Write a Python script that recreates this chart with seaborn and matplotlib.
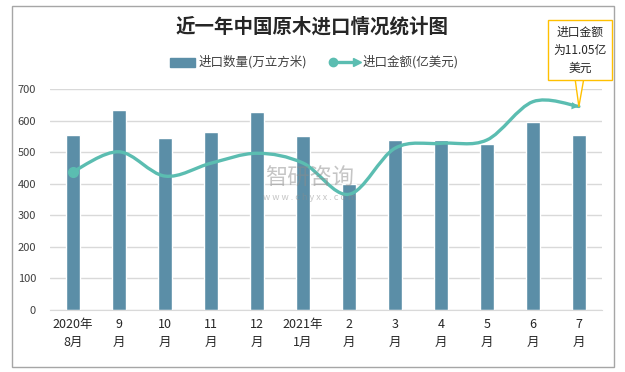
import numpy as np
import pandas as pd
import matplotlib
matplotlib.use('Agg')
import matplotlib.pyplot as plt
from matplotlib.path import Path
from matplotlib.patches import PathPatch, Rectangle
import seaborn as sns

sns.set_style('white')
plt.rcParams['font.family'] = ['Noto Sans CJK SC', 'DejaVu Sans']

# data
months = ['2020年\n8月', '9\n月', '10\n月', '11\n月', '12\n月', '2021年\n1月',
          '2\n月', '3\n月', '4\n月', '5\n月', '6\n月', '7\n月']
volume = [554, 633, 545, 564, 627, 551, 399, 538, 538, 526, 596, 554]   # 万立方米
value = [7.51, 8.59, 7.27, 7.97, 8.51, 7.98, 6.28, 8.78, 9.05, 9.23, 11.31, 11.05]  # 亿美元

bar_color = '#5b8ea7'
line_color = '#5bbdb1'

df = pd.DataFrame({'month': months, 'volume': volume, 'value': value})

fig = plt.figure(figsize=(6.25, 3.72), dpi=100)
ax = fig.add_axes([0.08, 0.1667, 0.883, 0.5941])

sns.barplot(data=df, x='month', y='volume', color=bar_color, width=0.3,
            saturation=1, ax=ax)
ax.set_xlim(-0.5, len(months) - 0.5)
ax.set_ylim(0, 700)
ax.set_yticks(range(0, 701, 100))
ax.yaxis.grid(True, color='#d9d9d9', lw=1)
ax.set_axisbelow(True)
for s in ['top', 'right', 'left']:
    ax.spines[s].set_visible(False)
ax.spines['bottom'].set_color('#d9d9d9')
ax.set_xlabel('')
ax.set_ylabel('')
ax.tick_params(axis='y', labelsize=8, colors='#404040', length=0, pad=10)
ax.tick_params(axis='x', labelsize=9, colors='#262626', length=0, pad=6)
for lab in ax.get_xticklabels():
    lab.set_linespacing(1.5)

# secondary axis for the value line (hidden)
ax2 = ax.twinx()
ax2.set_ylim(0, 12)
ax2.axis('off')

# smooth curve like Excel (bezier through data points)
x = np.arange(len(value), dtype=float)
y = np.array(value)
pts = np.column_stack([x, y])
verts = [tuple(pts[0])]
codes = [Path.MOVETO]
n = len(pts)
for i in range(n - 1):
    p0 = pts[i - 1] if i > 0 else pts[i]
    p1 = pts[i]
    p2 = pts[i + 1]
    p3 = pts[i + 2] if i + 2 < n else pts[i + 1]
    c1 = p1 + (p2 - p0) / 6
    c2 = p2 - (p3 - p1) / 6
    verts += [tuple(c1), tuple(c2), tuple(p2)]
    codes += [Path.CURVE4] * 3
ax2.add_patch(PathPatch(Path(verts, codes), fc='none', ec=line_color, lw=2.4,
                        capstyle='round'))
ax2.plot(x[0], y[0], 'o', color=line_color, ms=7)
ax2.annotate('', xy=tuple(pts[-1]), xytext=tuple(pts[-1] - (pts[-1] - pts[-2]) / 5),
             arrowprops=dict(arrowstyle='-|>', color=line_color, lw=0,
                             mutation_scale=13, shrinkA=0, shrinkB=0))

# callout
ax2.annotate('进口金额\n为11.05亿\n美元', xy=tuple(pts[-1]),
             xytext=(580, 322), textcoords='figure pixels',
             ha='center', va='center', fontsize=8.5, color='#262626',
             linespacing=1.5,
             bbox=dict(boxstyle='square,pad=0.45', fc='white', ec='#ffc000', lw=1),
             arrowprops=dict(arrowstyle='wedge,tail_width=0.7', fc='white',
                             ec='#ffc000', lw=1, shrinkA=0, shrinkB=0))

# legend
fig.add_artist(Rectangle((170 / 625, 1 - 67 / 372), 25 / 625, 9 / 372,
                         transform=fig.transFigure, color=bar_color))
fig.text(199 / 625, 1 - 62 / 372, '进口数量(万立方米)', fontsize=9,
         color='#404040', va='center')
lx = np.array([333, 357]) / 625
ly = 1 - 62 / 372
fig.add_artist(plt.Line2D(lx, [ly, ly], transform=fig.transFigure,
                          color=line_color, lw=2.4))
fig.add_artist(plt.Line2D([lx[0]], [ly], transform=fig.transFigure, marker='o',
                          color=line_color, ms=6))
fig.add_artist(plt.Line2D([lx[1]], [ly], transform=fig.transFigure, marker='>',
                          color=line_color, ms=6))
fig.text(363 / 625, ly, '进口金额(亿美元)', fontsize=9, color='#404040', va='center')

# title
fig.text(0.5, 1 - 27 / 372, '近一年中国原木进口情况统计图', ha='center', va='center',
         fontsize=14, fontweight='bold', color='#262626')

# watermark
fig.text(310 / 625, 1 - 178 / 372, '智研咨询', ha='center', va='center',
         fontsize=16, color='#8c8c8c', alpha=0.5)
fig.text(310 / 625, 1 - 197 / 372, 'w w w . c h y x x . c o m', ha='center',
         va='center', fontsize=6.5, color='#8c8c8c', alpha=0.5)

# outer border
fig.add_artist(Rectangle((12 / 625, 5 / 372), 602 / 625, 361 / 372,
                         transform=fig.transFigure, fill=False, ec='#a6a6a6', lw=1))

fig.savefig('out.png', dpi=100)
